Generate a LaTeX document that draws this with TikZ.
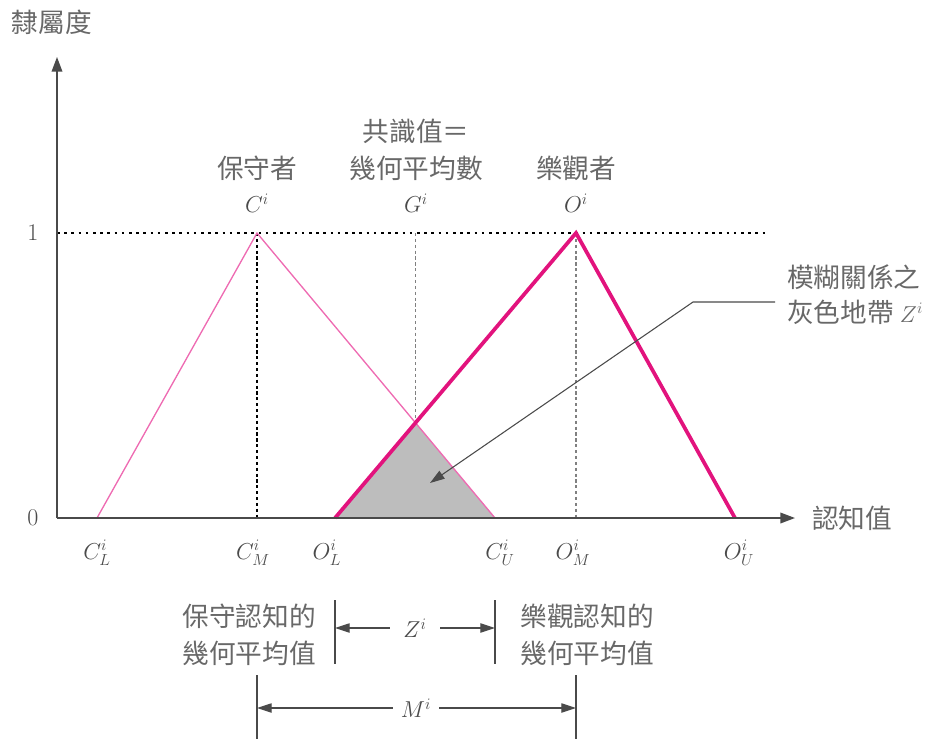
\documentclass[tikz,border=0pt]{standalone}
\usepackage{fontspec}
\newfontfamily\cjk{Noto Sans CJK TC}
\usepackage{amsmath}
\usetikzlibrary{arrows.meta}

\definecolor{thinpink}{HTML}{EE6BB2}
\definecolor{thickpink}{HTML}{E2137D}
\definecolor{axisgray}{HTML}{4A4A4A}
\definecolor{labelgray}{HTML}{686868}
\definecolor{zonegray}{HTML}{BDBDBD}

\tikzset{
  cjklabel/.style={font=\cjk\fontsize{20}{24}\selectfont, text=labelgray, inner sep=0pt},
  mathlabel/.style={font=\fontsize{18}{21}\selectfont, text=axisgray, inner sep=0pt},
  axisline/.style={axisgray, line width=1.1pt, -{Triangle[length=11pt,width=8pt]}},
  onelevel/.style={black, line width=2pt, dash pattern=on 2pt off 3.4pt},
  guideline/.style={line width=0.9pt, dash pattern=on 2.4pt off 2pt},
  dimline/.style={axisgray, line width=0.8pt, -{Triangle[length=11pt,width=7pt]}},
  barline/.style={axisgray, line width=0.9pt}
}

\begin{document}
\begin{tikzpicture}[x=0.75pt,y=-0.75pt]
  \useasboundingbox (0,0) rectangle (935,747);

  \coordinate (origin) at (57,518);
  \coordinate (xtip) at (795,518);
  \coordinate (ytip) at (57,57);
  \coordinate (onestart) at (57,233);
  \coordinate (oneend) at (765,233);

  \coordinate (CL) at (97,518);
  \coordinate (CM) at (257,233);
  \coordinate (CU) at (495,518);
  \coordinate (OL) at (335,518);
  \coordinate (OM) at (576,233);
  \coordinate (OU) at (735,518);
  \coordinate (cross) at (intersection of CM--CU and OL--OM);
  \coordinate (CMfoot) at (CM |- origin);
  \coordinate (OMfoot) at (OM |- origin);
  \coordinate (Gtop) at (cross |- CM);

  \fill[zonegray] (OL) -- (cross) -- (CU) -- cycle;
  \draw[onelevel] (onestart) -- (oneend);
  \draw[guideline, black] (CM) -- (CMfoot);
  \draw[guideline, gray] (Gtop) -- (cross);
  \draw[guideline, gray] (OM) -- (OMfoot);
  \draw[thinpink, line width=1pt] (CL) -- (CM) -- (CU);
  \draw[thickpink, line width=2.8pt] (OL) -- (OM) -- (OU);
  \draw[axisline] (origin) -- (xtip);
  \draw[axisline] (origin) -- (ytip);

  \node[cjklabel] (yname) at (52,22) {隸屬度};
  \node[cjklabel, anchor=west] (xname) at (812,518) {認知值};
  \node[mathlabel] (zero) at (33,518) {0};
  \node[mathlabel] (one) at (33,233) {1};

  \node[cjklabel] (Cname) at (257,168) {保守者};
  \node[mathlabel] (Clab) at (257,203) {$C^i$};
  \node[cjklabel] (Gname1) at (416,131) {共識值＝};
  \node[cjklabel] (Gname2) at (416,168) {幾何平均數};
  \node[mathlabel] (Glab) at (416,203) {$G^i$};
  \node[cjklabel] (Oname) at (576,168) {樂觀者};
  \node[mathlabel] (Olab) at (576,203) {$O^i$};

  \node[mathlabel] (CLlab) at (97,553) {$C^i_L$};
  \node[mathlabel] (CMlab) at (253,553) {$C^i_M$};
  \node[mathlabel] (OLlab) at (327,553) {$O^i_L$};
  \node[mathlabel] (CUlab) at (500,553) {$C^i_U$};
  \node[mathlabel] (OMlab) at (573,553) {$O^i_M$};
  \node[mathlabel] (OUlab) at (739,553) {$O^i_U$};

  \node[cjklabel, anchor=west] (zone1) at (787,277) {模糊關係之};
  \node[cjklabel, anchor=west] (zone2) at (787,312) {灰色地帶 {\fontsize{17}{20}\selectfont$Z^i$}};
  \coordinate (leadstart) at (775,302);
  \coordinate (leadbend) at (693,302);
  \coordinate (leadtip) at (430,483);
  \draw[dimline] (leadstart) -- (leadbend) -- (leadtip);

  \node[cjklabel] (cons1) at (249,616) {保守認知的};
  \node[cjklabel] (cons2) at (249,653) {幾何平均值};
  \node[cjklabel] (opt1) at (587,616) {樂觀認知的};
  \node[cjklabel] (opt2) at (587,653) {幾何平均值};

  \coordinate (ZLtop) at (335,600);
  \coordinate (ZLbot) at (335,664);
  \coordinate (ZRtop) at (495,600);
  \coordinate (ZRbot) at (495,664);
  \coordinate (ZLmid) at (335,628);
  \coordinate (ZRmid) at (495,628);
  \draw[barline] (ZLtop) -- (ZLbot);
  \draw[barline] (ZRtop) -- (ZRbot);
  \node[mathlabel, inner xsep=10pt] (Zlab) at (415,628) {$Z^i$};
  \draw[dimline] (Zlab) -- (ZLmid);
  \draw[dimline] (Zlab) -- (ZRmid);

  \coordinate (MLtop) at (257,675);
  \coordinate (MLbot) at (257,739);
  \coordinate (MRtop) at (576,675);
  \coordinate (MRbot) at (576,739);
  \coordinate (MLmid) at (257,708);
  \coordinate (MRmid) at (576,708);
  \draw[barline] (MLtop) -- (MLbot);
  \draw[barline] (MRtop) -- (MRbot);
  \node[mathlabel, inner xsep=6pt] (Mlab) at (416,708) {$M^i$};
  \draw[dimline] (Mlab) -- (MLmid);
  \draw[dimline] (Mlab) -- (MRmid);
\end{tikzpicture}
\end{document}
